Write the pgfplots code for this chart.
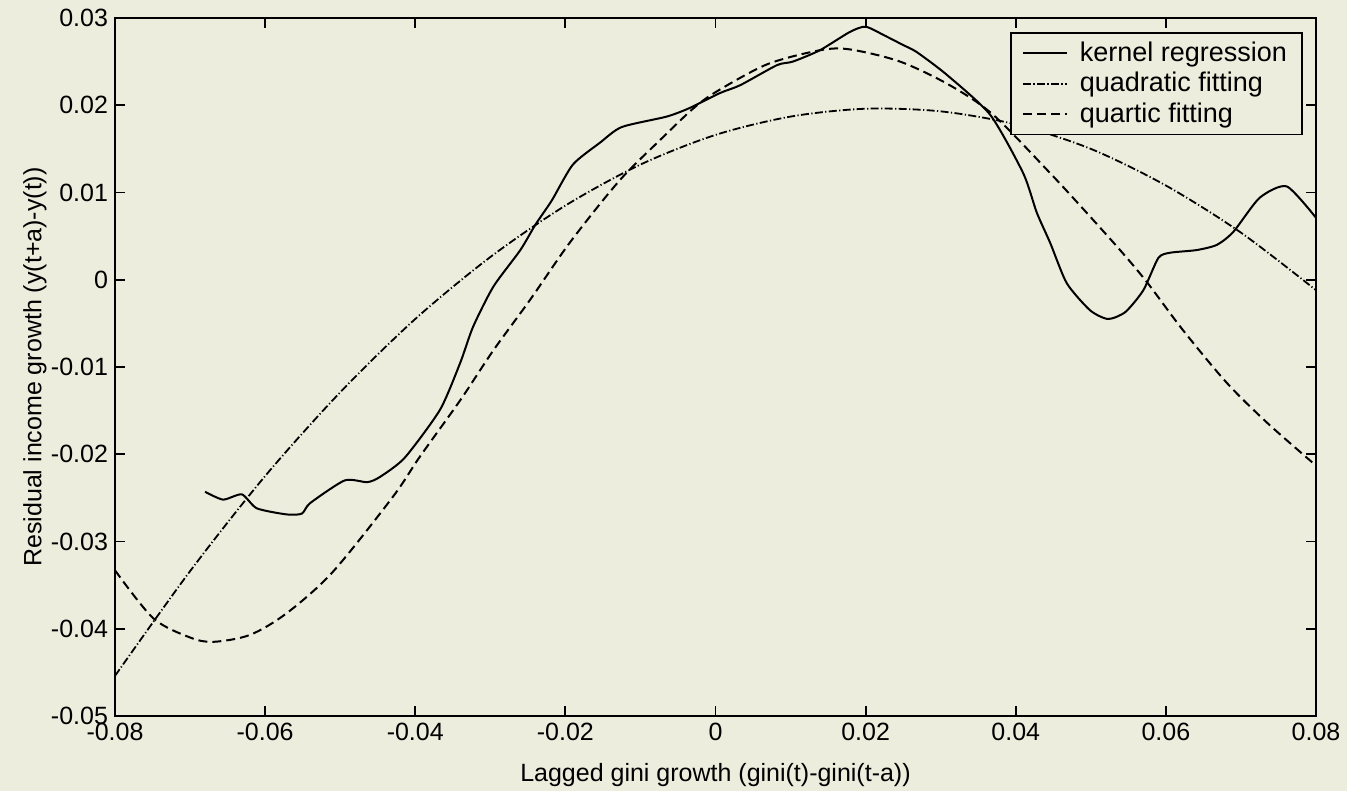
\documentclass[border=0pt]{standalone}
\usepackage{fontspec}
\setmainfont{Liberation Sans}
\usepackage{pgfplots}
\pgfplotsset{compat=1.18}
\definecolor{paper}{RGB}{237,237,221}
\begin{document}
\begin{tikzpicture}
\fill[paper] (-57.5pt,-37.5pt) rectangle (616pt,358pt);
\useasboundingbox (-57.5pt,-37.5pt) rectangle (616pt,358pt);
\begin{axis}[
  at={(0,0)}, anchor=south west,
  scale only axis, width=600.5pt, height=349pt,
  xmin=-0.08, xmax=0.08, ymin=-0.05, ymax=0.03,
  scaled x ticks=false, scaled y ticks=false,
  xtick={-0.08,-0.06,-0.04,-0.02,0,0.02,0.04,0.06,0.08},
  xticklabels={-0.08,-0.06,-0.04,-0.02,0,0.02,0.04,0.06,0.08},
  ytick={-0.05,-0.04,-0.03,-0.02,-0.01,0,0.01,0.02,0.03},
  yticklabels={-0.05,-0.04,-0.03,-0.02,-0.01,0,0.01,0.02,0.03},
  tick align=inside, major tick length=5pt,
  axis line style={line width=1pt},
  every tick/.style={line width=0.9pt, black},
  tick label style={font=\fontsize{12.5}{14}\selectfont},
  xlabel={Lagged gini growth (gini(t)-gini(t-a))},
  ylabel={Residual income growth (y(t+a)-y(t))},
  label style={font=\fontsize{12.5}{14}\selectfont},
  xlabel style={at={(axis description cs:0.5,-0.0845)}, anchor=center},
  ylabel style={at={(axis description cs:-0.0666,0.5)}, anchor=center},
  legend style={at={(rel axis cs:0.989,0.980)}, anchor=north east,
    font=\fontsize{13.5}{15}\selectfont, draw=black, line width=0.9pt,
    fill=paper, row sep=0pt, column sep=4pt, inner xsep=5.5pt, inner ysep=2.5pt},
  legend cell align=left,
  legend image post style={line width=0.8pt},
  legend image code/.code={\draw[#1] (0pt,0pt) -- (22pt,0pt);},
]
\addplot[black, line width=1pt, smooth, tension=0.4] coordinates {
(-0.0680,-0.0243) (-0.0656,-0.0252) (-0.0631,-0.0246) (-0.0611,-0.0262)
(-0.0571,-0.0269) (-0.0551,-0.0268) (-0.0540,-0.0256) (-0.0494,-0.0230)
(-0.0464,-0.0232) (-0.0447,-0.0226) (-0.0414,-0.0204) (-0.0367,-0.0149)
(-0.0340,-0.0095) (-0.0323,-0.0054) (-0.0296,-0.0008) (-0.0260,0.0034)
(-0.0240,0.0063) (-0.0218,0.0091) (-0.0190,0.0132) (-0.0154,0.0157)
(-0.0125,0.0175) (-0.0065,0.0187) (-0.0034,0.0197) (0.0006,0.0214)
(0.0033,0.0223) (0.0082,0.0246) (0.0103,0.0250) (0.0139,0.0263)
(0.0179,0.0284) (0.0200,0.0290) (0.0225,0.0280) (0.0250,0.0269)
(0.0268,0.0261) (0.0308,0.0235) (0.0366,0.0189) (0.0410,0.0122)
(0.0428,0.0077) (0.0446,0.0042) (0.0468,-0.0004) (0.0499,-0.0035)
(0.0523,-0.0045) (0.0546,-0.0037) (0.0570,-0.0012) (0.0590,0.0025)
(0.0606,0.0031) (0.0641,0.0034) (0.0668,0.0040) (0.0690,0.0055)
(0.0725,0.0094) (0.0761,0.0107) (0.0800,0.0071)
};
\addlegendentry{kernel regression}
\addplot[black, line width=0.9pt, smooth, dash pattern=on 4pt off 1.2pt on 0.6pt off 1.2pt] coordinates {
(-0.08,-0.0454) (-0.07,-0.0334) (-0.06,-0.0225) (-0.05,-0.0129)
(-0.04,-0.0045) (-0.03,0.0026) (-0.02,0.0085) (-0.01,0.0132)
(0,0.0166) (0.01,0.0187) (0.02,0.0196) (0.03,0.0193)
(0.04,0.0178) (0.05,0.0150) (0.06,0.0108) (0.07,0.0054) (0.08,-0.0012)
};
\addlegendentry{quadratic fitting}
\addplot[black, line width=1pt, smooth, dash pattern=on 4.5pt off 2.5pt] coordinates {
(-0.0800,-0.0333) (-0.0749,-0.0388) (-0.0700,-0.0410) (-0.0669,-0.0415)
(-0.0620,-0.0407) (-0.0571,-0.0382) (-0.0510,-0.0335) (-0.0430,-0.0249)
(-0.0394,-0.0203) (-0.0340,-0.0138) (-0.0296,-0.0081) (-0.0247,-0.0023)
(-0.0198,0.0038) (-0.0150,0.0091) (-0.0118,0.0123) (-0.0074,0.0160)
(-0.0030,0.0196) (0.0002,0.0216) (0.0069,0.0247) (0.0139,0.0263)
(0.0179,0.0264) (0.0246,0.0250) (0.0312,0.0223) (0.0370,0.0189)
(0.0446,0.0122) (0.0490,0.0081) (0.0539,0.0034) (0.0575,-0.0003)
(0.0623,-0.0058) (0.0681,-0.0118) (0.0735,-0.0164) (0.0800,-0.0213)
};
\addlegendentry{quartic fitting}
\end{axis}
\end{tikzpicture}
\end{document}
